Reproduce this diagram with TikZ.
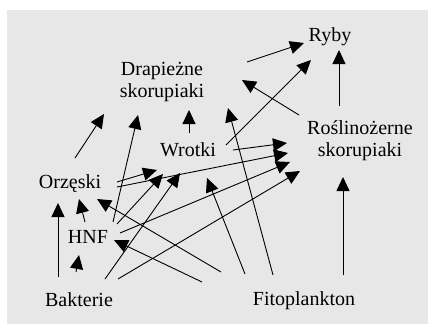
\documentclass[tikz,border=0pt]{standalone}
\usepackage{fontspec}
\setmainfont{Liberation Serif}
\usetikzlibrary{arrows.meta}
\definecolor{bggray}{HTML}{E7E7E7}
\tikzset{
  lab/.style={inner sep=0pt, font=\fontsize{20bp}{22bp}\selectfont},
  arr/.style={line width=0.9bp, -{Triangle[length=14bp,width=13bp]}}
}
\begin{document}
\begin{tikzpicture}[x=1bp,y=-1bp]
\useasboundingbox (0,0) rectangle (428,324);
\fill[bggray] (7,10) rectangle (428,324);
\node[lab,anchor=base] (ryby) at (330,41) {Ryby};
\node[lab,align=center] (drap) at (162,82) {Drapieżne\\skorupiaki};
\node[lab,anchor=base] (wrot) at (188,156) {Wrotki};
\node[lab,align=center] (rosl) at (360,141) {Roślinożerne\\skorupiaki};
\node[lab,anchor=base] (orz) at (70,188) {Orzęski};
\node[lab,anchor=base] (hnf) at (88,243) {HNF};
\node[lab,anchor=base] (bakt) at (79,306) {Bakterie};
\node[lab,anchor=base] (fito) at (304,305) {Fitoplankton};
% arrows
\draw[arr] ([shift={(85,-20)}]drap.center) -- ([shift={(-26,2)}]ryby.base);
\draw[arr] ([shift={(38,-11)}]wrot.base) -- ([shift={(-19,19)}]ryby.base);
\draw[arr] ([shift={(-61,-26)}]rosl.center) -- ([shift={(80,-2)}]drap.center);
\draw[arr] ([shift={(-21,-35)}]rosl.center) -- ([shift={(9,9)}]ryby.base);
\draw[arr] ([shift={(1,-23)}]wrot.base) -- ([shift={(27,28)}]drap.center);
\draw[arr] ([shift={(5,-30)}]orz.base) -- ([shift={(-58,32)}]drap.center);
\draw[arr] ([shift={(25,-21)}]hnf.base) -- ([shift={(-24,33)}]drap.center);
\draw[arr] ([shift={(-31,-30)}]fito.base) -- ([shift={(66,26)}]drap.center);
\draw[arr] ([shift={(-59,-31)}]fito.base) -- ([shift={(19,22)}]wrot.base);
\draw[arr] ([shift={(47,-6)}]orz.base) -- ([shift={(-31,14)}]wrot.base);
\draw[arr] ([shift={(29,-19)}]hnf.base) -- ([shift={(-25,18)}]wrot.base);
\draw[arr] ([shift={(26,-27)}]bakt.base) -- ([shift={(-8,17)}]wrot.base);
\draw[arr] ([shift={(45,-6)}]wrot.base) -- ([shift={(-73,2)}]rosl.center);
\draw[arr] ([shift={(47,-1)}]orz.base) -- ([shift={(-72,12)}]rosl.center);
\draw[arr] ([shift={(32,-10)}]hnf.base) -- ([shift={(-70,21)}]rosl.center);
\draw[arr] ([shift={(39,-27)}]bakt.base) -- ([shift={(-60,30)}]rosl.center);
\draw[arr] ([shift={(39,-30)}]fito.base) -- ([shift={(-17,36)}]rosl.center);
\draw[arr] ([shift={(-21,-29)}]bakt.base) -- ([shift={(-12,15)}]orz.base);
\draw[arr] ([shift={(-3,-34)}]bakt.base) -- ([shift={(-9,12)}]hnf.base);
\draw[arr] ([shift={(-3,-21)}]hnf.base) -- ([shift={(9,11)}]orz.base);
\draw[arr] ([shift={(-102,-23)}]fito.base) -- ([shift={(26,-3)}]hnf.base);
\draw[arr] ([shift={(-83,-33)}]fito.base) -- ([shift={(27,11)}]orz.base);
\end{tikzpicture}
\end{document}
